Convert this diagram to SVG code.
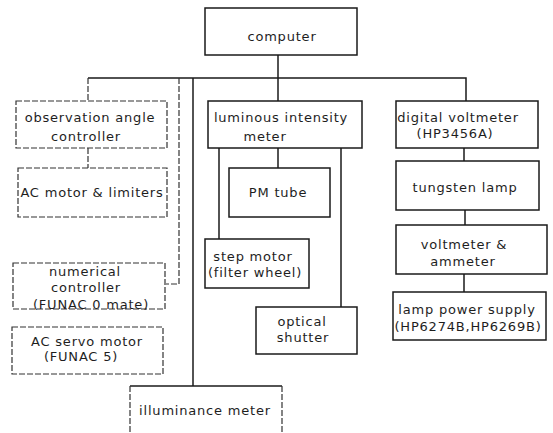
<svg xmlns="http://www.w3.org/2000/svg" width="553" height="433" viewBox="0 0 553 433">
<style>
.box{fill:#fff;stroke:#1a1a1a;stroke-width:1.5}
.dbox{fill:#fff;stroke:#333;stroke-width:1.2;stroke-dasharray:6 2}
.ln{fill:none;stroke:#1a1a1a;stroke-width:1.5}
.dln{fill:none;stroke:#333;stroke-width:1.2;stroke-dasharray:6 2}
text{font-family:"DejaVu Sans","Liberation Sans",sans-serif;font-size:13px;letter-spacing:0.8px;fill:#1e1e1e;text-anchor:middle}
</style>
<rect width="553" height="433" fill="#fff"/>
<g id="connectors">
<path class="ln" d="M278 55V101"/>
<path class="ln" d="M88 78H466V101"/>
<path class="dln" d="M88 78V101"/>
<path class="dln" d="M88 148V168"/>
<path class="dln" d="M179 78V284H166"/>
<path class="ln" d="M193 78V386"/>
<path class="ln" d="M278 148V168"/>
<path class="ln" d="M219 148V239"/>
<path class="ln" d="M341 148V307"/>
<path class="ln" d="M464 148V161"/>
<path class="ln" d="M465 210V225"/>
<path class="ln" d="M464 274V292"/>
</g>
<g id="computer"><rect class="box" x="205" y="8" width="152" height="47"/><text x="282" y="41">computer</text></g>
<g id="observation-angle-controller"><rect class="dbox" x="16" y="101" width="151" height="47"/><text x="90" y="122">observation angle</text><text x="86" y="141">controller</text></g>
<g id="ac-motor-limiters"><rect class="dbox" x="18" y="168" width="149" height="49"/><text x="92" y="197">AC motor &amp; limiters</text></g>
<g id="numerical-controller"><rect class="dbox" x="13" y="263" width="152" height="46"/><text x="85" y="276">numerical</text><text x="86" y="292">controller</text><text x="91" y="309">(FUNAC 0 mate)</text></g>
<g id="ac-servo-motor"><rect class="dbox" x="12" y="327" width="151" height="47"/><text x="87" y="346">AC servo motor</text><text x="81" y="361">(FUNAC 5)</text></g>
<g id="luminous-intensity-meter"><rect class="box" x="208" y="101" width="154" height="47"/><text x="281" y="122">luminous intensity</text><text x="265" y="141">meter</text></g>
<g id="pm-tube"><rect class="box" x="229" y="168" width="101" height="49"/><text x="278" y="197">PM tube</text></g>
<g id="step-motor"><rect class="box" x="205" y="239" width="104" height="49"/><text x="253" y="261">step motor</text><text x="255" y="277">(filter wheel)</text></g>
<g id="optical-shutter"><rect class="box" x="256" y="307" width="101" height="47"/><text x="302" y="326">optical</text><text x="303" y="342">shutter</text></g>
<g id="illuminance-meter"><path class="ln" d="M130 386H282"/><path class="dln" d="M130 386V433M282 386V433"/><text x="205" y="415">illuminance meter</text></g>
<g id="digital-voltmeter"><rect class="box" x="396" y="101" width="142" height="47"/><text x="458" y="122">digital voltmeter</text><text x="455" y="138">(HP3456A)</text></g>
<g id="tungsten-lamp"><rect class="box" x="396" y="161" width="143" height="49"/><text x="465" y="192">tungsten lamp</text></g>
<g id="voltmeter-ammeter"><rect class="box" x="396" y="225" width="151" height="49"/><text x="464" y="249">voltmeter &amp;</text><text x="463" y="266">ammeter</text></g>
<g id="lamp-power-supply"><rect class="box" x="393" y="292" width="153" height="48"/><text x="467" y="314">lamp power supply</text><text x="468" y="331">(HP6274B,HP6269B)</text></g>
</svg>
